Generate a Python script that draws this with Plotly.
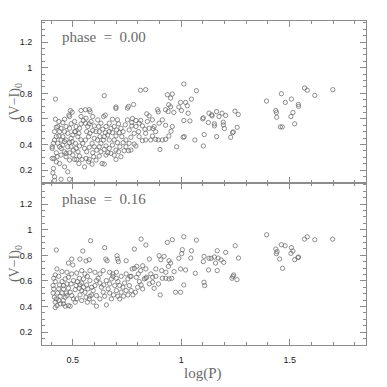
import plotly.graph_objects as go
from plotly.subplots import make_subplots

# phase = 0.00 (top panel)
top_logp = [
    1.699, 1.569, 1.581, 1.616, 1.462, 1.508, 1.480, 1.393, 1.540, 1.541, 1.515, 1.436, 1.439, 1.440,
    1.506, 1.523, 1.457, 1.466,
    1.063, 1.102, 1.106, 1.099, 1.102, 1.125, 1.128, 1.141, 1.142, 1.163, 1.174, 1.188, 1.205, 1.153,
    1.153, 1.163, 1.194, 1.194, 1.199, 1.248, 1.263, 1.258, 1.240, 1.237, 1.228,
    0.420, 0.645, 0.812, 0.836, 1.012, 1.070, 1.047, 0.936, 0.959, 0.951, 0.997, 1.020, 1.028, 0.780,
    0.757, 0.752, 0.699, 0.699, 0.650, 0.642, 0.489, 0.497, 0.482, 0.485, 0.538, 0.558, 0.576, 0.580,
    0.420, 0.841, 0.852, 0.891, 0.894, 0.942, 0.951, 0.928, 0.940, 0.966, 0.989, 1.001, 1.032, 1.012,
    1.040, 1.009, 1.014, 0.979, 0.953, 0.959, 0.928, 0.943, 0.928, 0.913, 0.894, 0.882, 0.859, 0.902,
    0.836, 0.821, 0.870, 0.875, 0.898, 0.913, 0.867, 0.813, 0.791, 0.775, 0.772, 0.821, 0.833, 0.803,
    0.783, 0.768, 0.745, 0.783, 0.791, 0.768, 0.757, 0.737, 0.722, 0.691, 0.699, 0.653, 0.645, 0.635,
    0.589, 0.573, 0.554, 0.528, 0.518, 0.561, 0.576, 0.596, 0.607, 0.622, 0.424, 0.439, 0.462, 0.477,
    0.408, 0.416, 0.446, 0.485, 0.416, 0.411, 0.405, 0.413, 0.424, 0.405, 0.405, 0.411, 0.416, 0.424,
    0.416, 0.424, 0.431, 0.439, 0.436, 0.446, 0.454, 0.446, 0.462, 0.469, 0.477, 0.485, 0.492, 0.500,
    0.508, 0.469, 0.485, 0.515, 0.531, 0.538, 0.549, 0.558, 0.569, 0.576, 0.584, 0.599, 0.607, 0.619,
    0.630, 0.638, 0.650, 0.661, 0.668, 0.676, 0.683, 0.691, 0.702, 0.711, 0.722, 0.732, 0.742, 0.752,
    0.706, 0.683, 0.668, 0.523, 0.538, 0.546, 0.531, 0.515, 0.503, 0.492, 0.512, 0.554, 0.564, 0.576,
    0.589, 0.599, 0.610, 0.622, 0.630, 0.641, 0.599, 0.573, 0.558, 0.653, 0.668, 0.683, 0.691, 0.706,
    0.717, 0.726, 0.732, 0.668, 0.436, 0.454, 0.462, 0.446, 0.462, 0.477, 0.454, 0.469, 0.431, 0.439,
    0.462, 0.428, 0.446, 0.469, 0.485, 0.500, 0.508, 0.531, 0.543, 0.524, 0.485, 0.497, 0.512, 0.528,
    0.492, 0.508, 0.564, 0.579, 0.592, 0.614, 0.625, 0.645, 0.592, 0.630, 0.645, 0.661, 0.676, 0.699,
    0.711, 0.745, 0.760, 0.806, 0.836, 0.852, 0.882, 0.867, 0.699, 0.714, 0.760, 0.772, 0.791, 0.806,
    0.844, 0.653, 0.622, 0.538, 0.561, 0.592, 0.615,
]
top_vi = [
    0.829, 0.842, 0.824, 0.784, 0.797, 0.755, 0.729, 0.740, 0.713, 0.698, 0.651, 0.666, 0.651, 0.614,
    0.619, 0.562, 0.538, 0.538,
    0.436, 0.389, 0.478, 0.601, 0.609, 0.572, 0.645, 0.632, 0.624, 0.658, 0.619, 0.645, 0.627, 0.562,
    0.546, 0.462, 0.575, 0.554, 0.525, 0.661, 0.635, 0.535, 0.499, 0.493, 0.457,
    0.755, 0.782, 0.824, 0.829, 0.873, 0.821, 0.755, 0.789, 0.795, 0.763, 0.729, 0.729, 0.703, 0.713,
    0.698, 0.685, 0.693, 0.682, 0.630, 0.619, 0.666, 0.653, 0.630, 0.619, 0.666, 0.672, 0.672, 0.656,
    0.598, 0.640, 0.624, 0.672, 0.656, 0.711, 0.695, 0.672, 0.658, 0.651, 0.693, 0.666, 0.645, 0.588,
    0.585, 0.457, 0.462, 0.383, 0.504, 0.541, 0.551, 0.467, 0.441, 0.436, 0.436, 0.441, 0.436, 0.362,
    0.436, 0.431, 0.525, 0.541, 0.567, 0.593, 0.593, 0.588, 0.588, 0.603, 0.572, 0.546, 0.520, 0.501,
    0.488, 0.457, 0.436, 0.404, 0.389, 0.357, 0.352, 0.352, 0.305, 0.318, 0.284, 0.318, 0.247, 0.252,
    0.247, 0.265, 0.226, 0.252, 0.284, 0.292, 0.284, 0.305, 0.279, 0.310, 0.265, 0.252, 0.226, 0.187,
    0.179, 0.148, 0.129, 0.129, 0.121, 0.213, 0.292, 0.292, 0.336, 0.370, 0.383, 0.410, 0.436, 0.462,
    0.501, 0.535, 0.541, 0.501, 0.467, 0.436, 0.396, 0.370, 0.344, 0.331, 0.383, 0.415, 0.449, 0.475,
    0.501, 0.541, 0.527, 0.541, 0.527, 0.562, 0.588, 0.567, 0.541, 0.562, 0.580, 0.546, 0.501, 0.541,
    0.567, 0.520, 0.493, 0.475, 0.501, 0.527, 0.493, 0.541, 0.514, 0.562, 0.527, 0.501, 0.554, 0.593,
    0.593, 0.598, 0.567, 0.462, 0.436, 0.410, 0.389, 0.370, 0.357, 0.383, 0.410, 0.370, 0.344, 0.378,
    0.410, 0.383, 0.357, 0.383, 0.410, 0.436, 0.449, 0.462, 0.436, 0.389, 0.370, 0.396, 0.436, 0.415,
    0.383, 0.462, 0.415, 0.436, 0.580, 0.572, 0.598, 0.527, 0.501, 0.488, 0.462, 0.436, 0.410, 0.383,
    0.423, 0.305, 0.318, 0.305, 0.279, 0.318, 0.284, 0.310, 0.284, 0.344, 0.336, 0.423, 0.501, 0.488,
    0.562, 0.580, 0.501, 0.488, 0.509, 0.436, 0.462, 0.462, 0.336, 0.344, 0.362, 0.336, 0.331, 0.357,
    0.344, 0.383, 0.410, 0.462, 0.488, 0.527, 0.501, 0.467, 0.467, 0.493, 0.514, 0.546, 0.541, 0.567,
    0.580, 0.541, 0.501, 0.619, 0.606, 0.619, 0.593,
]

# phase = 0.16 (bottom panel)
bot_logp = [
    1.698, 1.616, 1.581, 1.568, 1.394, 1.462, 1.479, 1.508, 1.515, 1.436, 1.442, 1.439, 1.506, 1.454,
    1.523, 1.538, 1.541, 1.467,
    1.044, 1.065, 1.105, 1.102, 1.126, 1.105, 1.108, 1.128, 1.138, 1.153, 1.166, 1.170, 1.184, 1.196,
    1.205, 1.158, 1.166, 1.249, 1.264, 1.242, 1.234, 1.257, 1.238,
    0.424, 0.582, 0.546, 0.647, 0.784, 0.815, 0.837, 0.936, 0.959, 1.012, 1.070, 1.047, 1.005, 0.533,
    0.495, 0.500, 0.480, 0.561, 0.576, 0.652, 0.658, 0.704, 0.707, 0.710, 0.746, 0.784, 0.795, 0.822,
    0.853, 0.898, 0.906, 0.921, 0.944, 0.951, 0.989, 1.002, 0.997, 1.020, 0.967, 0.941, 0.929, 0.910,
    0.883, 0.913, 0.944, 0.956, 0.974, 0.997, 1.012, 0.903, 0.868, 0.875, 0.837, 0.807, 0.774, 0.764,
    0.746, 0.723, 0.701, 0.685, 0.670, 0.640, 0.625, 0.602, 0.579, 0.556, 0.541, 0.518, 0.495, 0.473,
    0.450, 0.427, 0.419, 0.435, 0.412, 0.419, 0.409, 0.412, 0.409, 0.415, 0.419, 0.427, 0.419, 0.442,
    0.457, 0.465, 0.480, 0.488, 0.450, 0.457, 0.435, 0.439, 0.450, 0.465, 0.473, 0.480, 0.488, 0.495,
    0.503, 0.511, 0.515, 0.521, 0.530, 0.541, 0.549, 0.556, 0.561, 0.567, 0.576, 0.587, 0.594, 0.602,
    0.609, 0.617, 0.625, 0.632, 0.640, 0.647, 0.655, 0.609, 0.594, 0.663, 0.670, 0.678, 0.685, 0.693,
    0.701, 0.688, 0.708, 0.716, 0.723, 0.731, 0.739, 0.754, 0.761, 0.769, 0.777, 0.789, 0.799, 0.815,
    0.830, 0.840, 0.853, 0.822, 0.793, 0.802, 0.813, 0.883, 0.895, 0.929, 0.442, 0.470, 0.511, 0.533,
    0.541, 0.530, 0.549, 0.567, 0.579, 0.587, 0.570, 0.609, 0.625, 0.643, 0.655, 0.708, 0.716, 0.746,
    0.734, 0.754, 0.473, 0.480, 0.503, 0.492, 0.533, 0.564, 0.457, 0.430, 0.424, 0.435, 0.457, 0.465,
    0.518, 0.541, 0.579, 0.678, 0.670, 0.701, 0.769, 0.837, 0.860, 0.868,
]
bot_vi = [
    0.927, 0.922, 0.945, 0.927, 0.961, 0.883, 0.875, 0.860, 0.834, 0.849, 0.829, 0.813, 0.816, 0.771,
    0.766, 0.782, 0.787, 0.699,
    0.779, 0.660, 0.792, 0.751, 0.686, 0.590, 0.564, 0.777, 0.777, 0.787, 0.836, 0.779, 0.764, 0.745,
    0.823, 0.740, 0.681, 0.875, 0.779, 0.647, 0.621, 0.610, 0.636,
    0.842, 0.914, 0.834, 0.860, 0.849, 0.927, 0.881, 0.901, 0.922, 0.945, 0.919, 0.836, 0.844, 0.771,
    0.771, 0.725, 0.740, 0.756, 0.766, 0.771, 0.758, 0.797, 0.771, 0.751, 0.758, 0.699, 0.714, 0.719,
    0.771, 0.797, 0.766, 0.792, 0.758, 0.740, 0.777, 0.813, 0.694, 0.686, 0.673, 0.714, 0.668, 0.681,
    0.694, 0.621, 0.616, 0.621, 0.512, 0.512, 0.569, 0.491, 0.590, 0.543, 0.621, 0.595, 0.694, 0.636,
    0.655, 0.636, 0.621, 0.655, 0.668, 0.681, 0.655, 0.668, 0.681, 0.655, 0.681, 0.662, 0.655, 0.668,
    0.673, 0.694, 0.647, 0.636, 0.621, 0.595, 0.564, 0.538, 0.506, 0.473, 0.434, 0.408, 0.392, 0.421,
    0.447, 0.473, 0.408, 0.403, 0.506, 0.538, 0.538, 0.569, 0.595, 0.616, 0.577, 0.543, 0.512, 0.486,
    0.460, 0.532, 0.564, 0.595, 0.621, 0.584, 0.551, 0.512, 0.473, 0.434, 0.460, 0.491, 0.525, 0.564,
    0.603, 0.621, 0.584, 0.551, 0.512, 0.481, 0.413, 0.403, 0.434, 0.538, 0.577, 0.616, 0.636, 0.564,
    0.525, 0.491, 0.481, 0.460, 0.512, 0.551, 0.584, 0.616, 0.564, 0.525, 0.491, 0.512, 0.551, 0.569,
    0.616, 0.629, 0.577, 0.538, 0.629, 0.655, 0.681, 0.636, 0.577, 0.621, 0.481, 0.506, 0.434, 0.491,
    0.525, 0.543, 0.616, 0.636, 0.603, 0.551, 0.538, 0.486, 0.460, 0.569, 0.603, 0.595, 0.564, 0.525,
    0.481, 0.491, 0.486, 0.629, 0.603, 0.577, 0.569, 0.569, 0.564, 0.506, 0.460, 0.447, 0.421, 0.403,
    0.460, 0.447, 0.481, 0.460, 0.506, 0.668, 0.636, 0.694, 0.655, 0.629,
]

panels = ["phase&nbsp;&nbsp;=&nbsp;&nbsp;0.00", "phase&nbsp;&nbsp;=&nbsp;&nbsp;0.16"]
x_ticks = [0.5, 1, 1.5]
y_ticks = [0.2, 0.4, 0.6, 0.8, 1, 1.2]

axis_gray = "#8c8c8c"
serif = "Liberation Serif, Times New Roman, serif"

fig = make_subplots(rows=2, cols=1, shared_xaxes=True, vertical_spacing=0)

for row, (xs, ys) in enumerate([(top_logp, top_vi), (bot_logp, bot_vi)], start=1):
    fig.add_trace(
        go.Scatter(
            x=xs,
            y=ys,
            mode="markers",
            marker=dict(symbol="circle-open", size=4.3, color="#606060", line=dict(width=0.7)),
            showlegend=False,
            hoverinfo="skip",
            cliponaxis=False,
        ),
        row=row, col=1,
    )

common_axis = dict(
    showline=True,
    linecolor=axis_gray,
    linewidth=1,
    mirror="ticks",
    ticks="inside",
    ticklen=6,
    tickcolor=axis_gray,
    showgrid=False,
    zeroline=False,
    automargin=False,
    tickfont=dict(family="Liberation Sans, Arial, sans-serif", size=9, color="#222"),
)

for row in (1, 2):
    fig.update_xaxes(
        range=[0.358, 1.852],
        tickvals=x_ticks,
        ticktext=[str(v) for v in x_ticks],
        minor=dict(ticks="inside", dtick=0.1, tick0=0, ticklen=3, tickcolor=axis_gray),
        showticklabels=(row == 2),
        ticklabelstandoff=6,
        row=row, col=1,
        **common_axis,
    )
    fig.update_yaxes(
        range=[0.1, 1.365],
        tickvals=y_ticks,
        ticktext=[("%g" % v) for v in y_ticks],
        minor=dict(ticks="inside", dtick=0.05, tick0=0, ticklen=3, tickcolor=axis_gray),
        ticklabelstandoff=7,
        row=row, col=1,
        **common_axis,
    )

for i, label in enumerate(panels):
    yd = "y domain" if i == 0 else "y2 domain"
    fig.add_annotation(
        text=label, xref="x domain", yref=yd, x=0.055, y=0.9,
        xanchor="left", yanchor="middle", showarrow=False,
        font=dict(family=serif, size=15, color="#6a6a6a"),
    )
    fig.add_annotation(
        text="(V\u2212I)<sub>0</sub>", xref="x domain", yref=yd, x=-0.083, y=0.5,
        xanchor="center", yanchor="middle", textangle=-90, showarrow=False,
        font=dict(family=serif, size=14, color="#6a6a6a"),
    )

fig.add_annotation(
    text="log(P)", xref="x domain", yref="y2 domain", x=0.497, y=-0.173,
    xanchor="center", yanchor="middle", showarrow=False,
    font=dict(family=serif, size=15, color="#6a6a6a"),
)

# the page body keeps an 8px margin, so the plot area is shifted back by that much
fig.update_layout(
    width=387,
    height=387,
    margin=dict(l=34, r=29, t=13, b=50),
    paper_bgcolor="white",
    plot_bgcolor="white",
)

fig.write_html("out.html")
